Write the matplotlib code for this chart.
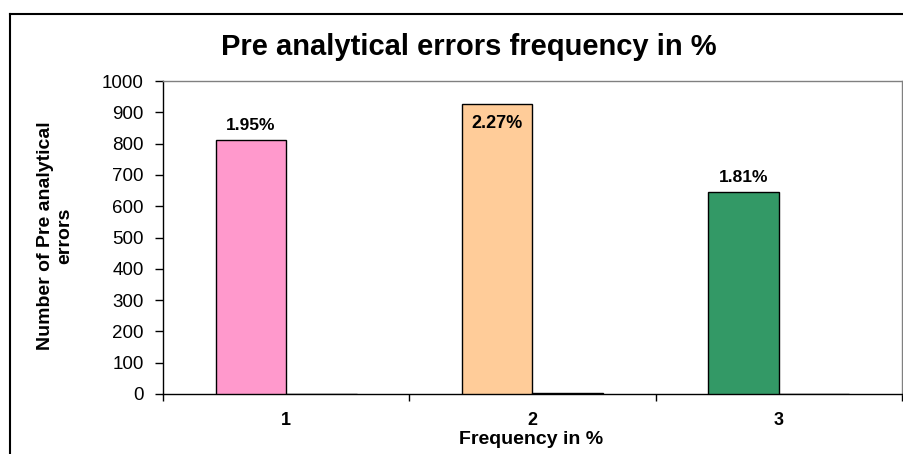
import matplotlib
matplotlib.use('Agg')
import matplotlib.pyplot as plt
import numpy as np
from matplotlib.lines import Line2D

plt.rcParams['font.family'] = ['Liberation Sans', 'DejaVu Sans']

# data
categories = ['1', '2', '3']
errors = [811, 927, 646]          # number of pre analytical errors
second_series = [0, 3, 0]         # tiny second series (only visible in cat 2)
pct_labels = ['1.95%', '2.27%', '1.81%']
bar_colors = ['#FF99CC', '#FFCC99', '#339966']

TITLE = 'Pre analytical errors frequency in %'
YLABEL = 'Number of Pre analytical\nerrors'
XLABEL = 'Frequency in %'

W, H = 904, 454
BAR_W = 0.286   # excel gap width 150%, two series


def fx(px):
    return px / W


def fy(py):
    return 1 - py / H


fig = plt.figure(figsize=(W / 100, H / 100), dpi=100)
ax = fig.add_axes([fx(163), fy(394), fx(902) - fx(163), fy(81) - fy(394)])

x = np.arange(len(categories))
ax.bar(x - BAR_W / 2, errors, width=BAR_W, color=bar_colors,
       edgecolor='black', linewidth=1.0, zorder=3)
ax.bar(x + BAR_W / 2, second_series, width=BAR_W, color=bar_colors,
       edgecolor='black', linewidth=1.0, zorder=3)

ax.set_xlim(-0.5, len(categories) - 0.5)
ax.set_ylim(0, 1000)
ax.set_yticks(np.arange(0, 1001, 100))
ax.tick_params(axis='y', direction='out', length=6, width=1, pad=8,
               labelsize=13.5)

# ticks at category boundaries, labels at centres
ax.set_xticks(np.arange(-0.5, len(categories)), minor=False)
ax.set_xticklabels([])
ax.set_xticks(x, minor=True)
ax.set_xticklabels(categories, minor=True, fontweight='bold', fontsize=13)
ax.tick_params(axis='x', which='major', direction='out', length=5, width=1)
ax.tick_params(axis='x', which='minor', length=0, pad=13)

for side in ['top', 'right']:
    ax.spines[side].set_color('#808080')
    ax.spines[side].set_linewidth(1.0)
for side in ['left', 'bottom']:
    ax.spines[side].set_color('black')
    ax.spines[side].set_linewidth(1.0)

# data labels
for i, (v, lab) in enumerate(zip(errors, pct_labels)):
    if v > 900:
        ax.annotate(lab, (x[i] - BAR_W / 2, v), xytext=(0, -8),
                    textcoords='offset points', ha='center', va='top',
                    fontsize=13, fontweight='bold', zorder=4)
    else:
        ax.annotate(lab, (x[i] - BAR_W / 2, v), xytext=(0, 5),
                    textcoords='offset points', ha='center', va='bottom',
                    fontsize=12.5, fontweight='bold', zorder=4)

fig.text(fx(469), fy(47), TITLE, ha='center', va='center',
         fontsize=21, fontweight='bold')
fig.text(fx(55), fy(236), YLABEL, ha='center', va='center', rotation=90,
         multialignment='center', fontsize=14, fontweight='bold',
         linespacing=1.2)
fig.text(fx(531), fy(444), XLABEL, ha='center', va='baseline',
         fontsize=14, fontweight='bold')

# chart area border (runs off the right and bottom edge)
fig.add_artist(Line2D([fx(10), fx(10)], [0, fy(14)], color='black',
                      linewidth=1.5, transform=fig.transFigure))
fig.add_artist(Line2D([fx(10), 1.0], [fy(14), fy(14)], color='black',
                      linewidth=1.5, transform=fig.transFigure))

fig.savefig('out.png', dpi=100, facecolor='white')
